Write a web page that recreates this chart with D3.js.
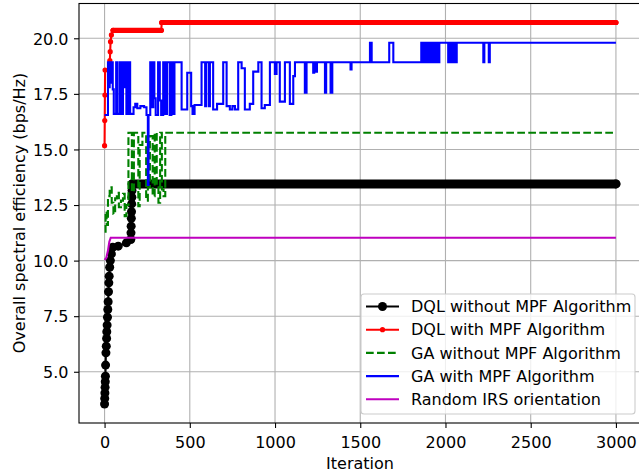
<!DOCTYPE html>
<html>
<head>
<meta charset="utf-8">
<script src="https://cdn.jsdelivr.net/npm/d3@7/dist/d3.min.js"></script>
<style>
  body { margin: 0; background: #fff; }
  svg { display: block; font-family: "DejaVu Sans", sans-serif; }
</style>
</head>
<body>
<div id="svgcontainer"></div>
<script>
// series values: [iteration, overall spectral efficiency]
var dqlNoMpf = [[0, 3.55], [1, 3.8], [2, 4.05], [3, 4.3], [4, 4.55], [5, 4.8], [6, 5.3], [8, 5.85],
  [10, 6.15], [12, 6.5], [13, 6.8], [15, 7.1], [17, 7.45], [19, 7.8], [21, 8.15], [23, 8.6],
  [25, 9.0], [27, 9.3], [30, 9.7], [34, 10.0], [40, 10.3], [48, 10.6], [80, 10.65], [128, 10.8],
  [154, 10.95], [155, 11.25], [156, 11.55], [157, 11.9], [158, 12.2], [159, 12.55], [160, 12.85],
  [161, 13.15], [162, 13.45], [3000, 13.45]];

var dqlMpf = [[0, 15.17], [1, 16.3], [2, 17.45], [3, 18.57], [28, 18.6], [31, 19.0], [33, 19.4],
  [35, 19.85], [40, 20.15], [50, 20.36], [333, 20.36], [335, 20.71], [3000, 20.71]];

// GA series only change value at the listed iterations
var gaNoMpf = [[0, 11.3], [6, 12.2], [12, 11.6], [20, 12.9], [30, 13.3], [42, 12.6], [52, 12.1],
  [62, 12.8], [72, 13.05], [84, 12.4], [96, 12.7], [108, 13.0], [118, 12.0], [128, 12.5],
  [140, 15.75], [160, 13.1], [172, 15.75], [198, 12.45], [206, 15.2], [222, 15.75], [244, 12.7],
  [254, 13.3], [266, 15.6], [282, 12.9], [294, 15.75], [306, 13.3], [316, 12.6], [326, 15.75],
  [336, 13.2], [346, 12.9], [356, 15.75], [3000, 15.75]];

var gaMpf = [[0, 16.55], [20, 18.92], [26, 17.8], [30, 18.92], [36, 18.0], [42, 18.92], [48, 17.7],
  [54, 16.6], [68, 18.92], [76, 16.6], [90, 18.92], [98, 16.6], [108, 18.92], [114, 17.8],
  [120, 18.92], [128, 16.6], [140, 18.92], [150, 16.6], [170, 16.9], [180, 17.05], [192, 16.85],
  [210, 16.95], [232, 16.9], [246, 16.55], [254, 13.4], [258, 16.55], [268, 18.92], [280, 16.9],
  [286, 18.92], [292, 17.3], [300, 16.55], [314, 18.92], [324, 17.2], [332, 16.55], [344, 18.92],
  [350, 16.6], [356, 18.92], [362, 16.6], [366, 18.92], [382, 16.55], [392, 18.92], [402, 16.6],
  [410, 18.92], [452, 16.8], [485, 18.45], [508, 16.95], [516, 16.6], [528, 17.0], [569, 18.92],
  [590, 16.95], [596, 18.92], [612, 16.95], [618, 18.92], [637, 16.8], [660, 17.05], [696, 18.92],
  [716, 16.95], [735, 16.8], [750, 16.95], [765, 16.8], [784, 18.92], [804, 18.65], [823, 16.8],
  [852, 17.05], [872, 18.5], [902, 18.92], [921, 16.85], [940, 17.0], [970, 18.92], [999, 18.4],
  [1009, 18.92], [1028, 17.15], [1058, 18.92], [1087, 17.05], [1107, 18.3], [1117, 18.92],
  [1175, 17.55], [1185, 18.92], [1224, 18.45], [1230, 18.92], [1240, 18.5], [1246, 18.92],
  [1293, 17.55], [1300, 18.92], [1326, 17.55], [1336, 18.92], [1443, 18.6], [1449, 18.92],
  [1557, 19.8], [1567, 18.92], [1670, 19.8], [1694, 18.92], [1858, 19.8], [1864, 18.92],
  [1870, 19.8], [1876, 18.92], [1882, 19.8], [1888, 18.92], [1894, 19.8], [1900, 18.92],
  [1908, 19.8], [1914, 18.92], [1922, 19.8], [1930, 18.92], [1938, 19.8], [1944, 18.92],
  [1952, 19.8], [1958, 18.92], [1964, 19.8], [2016, 18.92], [2024, 19.8], [2030, 18.92],
  [2042, 19.8], [2050, 18.92], [2056, 19.8], [2062, 18.92], [2066, 19.8], [2222, 18.92],
  [2228, 19.8], [2254, 18.92], [2260, 19.8], [3000, 19.8]];

var randomIrs = [[0, 10.03], [10, 10.12], [20, 10.45], [28, 10.85], [36, 11.03], [3000, 11.03]];

var xTicks = [0, 500, 1000, 1500, 2000, 2500, 3000];
var yTicks = [5, 7.5, 10, 12.5, 15, 17.5, 20];
var legendLabels = ["DQL without MPF Algorithm", "DQL with MPF Algorithm",
  "GA without MPF Algorithm", "GA with MPF Algorithm", "Random IRS orientation"];

var svgWidth = 639;
var svgHeight = 475;
var margin = { top: 3.5, left: 79 };
var width = 562.5;
var height = 419.5;
var fontSize = 16;

var svg = d3.select("#svgcontainer")
  .append("svg")
  .attr("width", svgWidth)
  .attr("height", svgHeight);

var chartGroup = svg.append("g")
  .attr("transform", `translate(${margin.left}, ${margin.top})`);

var xScale = d3.scaleLinear().domain([-150, 3150]).range([0, width]);
var yScale = d3.scaleLinear().domain([2.695, 21.565]).range([height, 0]);

svg.append("defs").append("clipPath").attr("id", "plotclip")
  .append("rect").attr("width", width).attr("height", height);

// grid
chartGroup.selectAll(".gx").data(xTicks).enter().append("line")
  .attr("x1", d => xScale(d)).attr("x2", d => xScale(d))
  .attr("y1", 0).attr("y2", height)
  .attr("stroke", "#b0b0b0").attr("stroke-width", 1.1);
chartGroup.selectAll(".gy").data(yTicks).enter().append("line")
  .attr("x1", 0).attr("x2", width)
  .attr("y1", d => yScale(d)).attr("y2", d => yScale(d))
  .attr("stroke", "#b0b0b0").attr("stroke-width", 1.1);

var plot = chartGroup.append("g").attr("clip-path", "url(#plotclip)");

var line = d3.line().x(d => xScale(d[0])).y(d => yScale(d[1]));
var stepLine = d3.line().x(d => xScale(d[0])).y(d => yScale(d[1])).curve(d3.curveStepAfter);

// flat runs of a marker series look like a solid band of markers
function flatRuns(data) {
  var runs = [];
  for (var i = 1; i < data.length; i++) {
    if (data[i][1] === data[i - 1][1]) runs.push([data[i - 1], data[i]]);
  }
  return runs;
}

function markerSeries(data, color, r) {
  plot.selectAll(null).data(flatRuns(data)).enter().append("path")
    .attr("d", d => line(d))
    .attr("fill", "none").attr("stroke", color)
    .attr("stroke-width", 2 * r).attr("stroke-linecap", "round");
  plot.append("path").datum(data)
    .attr("d", line)
    .attr("fill", "none").attr("stroke", color).attr("stroke-width", 2.1);
  plot.selectAll(null).data(data).enter().append("circle")
    .attr("cx", d => xScale(d[0])).attr("cy", d => yScale(d[1]))
    .attr("r", r).attr("fill", color);
}

markerSeries(dqlNoMpf, "#000000", 4.5);
markerSeries(dqlMpf, "#ff0000", 2.6);

plot.append("path").datum(gaNoMpf)
  .attr("d", stepLine)
  .attr("fill", "none").attr("stroke", "#008000").attr("stroke-width", 2.1)
  .attr("stroke-dasharray", "7.7,3.3");

plot.append("path").datum(gaMpf)
  .attr("d", stepLine)
  .attr("fill", "none").attr("stroke", "#0000ff").attr("stroke-width", 2.1);

plot.append("path").datum(randomIrs)
  .attr("d", line)
  .attr("fill", "none").attr("stroke", "#bf00bf").attr("stroke-width", 2.1);

// spines
chartGroup.append("rect")
  .attr("width", width).attr("height", height)
  .attr("fill", "none").attr("stroke", "#000").attr("stroke-width", 1.1);

// axes
var bottomAxis = d3.axisBottom(xScale).tickValues(xTicks).tickSize(5).tickSizeOuter(0).tickPadding(8.5)
  .tickFormat(d3.format("d"));
var leftAxis = d3.axisLeft(yScale).tickValues(yTicks).tickSize(5).tickSizeOuter(0).tickPadding(5.5)
  .tickFormat(d3.format(".1f"));

var gx = chartGroup.append("g")
  .attr("transform", `translate(0, ${height})`)
  .call(bottomAxis);
var gy = chartGroup.append("g").call(leftAxis);

[gx, gy].forEach(function (g) {
  g.select(".domain").remove();
  g.selectAll("line").attr("stroke", "#000").attr("stroke-width", 1.1);
  g.selectAll("text").attr("font-family", "DejaVu Sans").attr("font-size", fontSize).attr("fill", "#000");
});
gy.selectAll("text").attr("dy", "0.36em");

svg.append("text")
  .attr("x", 360).attr("y", 469)
  .attr("text-anchor", "middle")
  .attr("font-size", fontSize)
  .text("Iteration");

svg.append("text")
  .attr("transform", "translate(25, 213) rotate(-90)")
  .attr("text-anchor", "middle")
  .attr("font-size", fontSize)
  .text("Overall spectral efficiency (bps/Hz)");

// legend
var legend = svg.append("g");
legend.append("rect")
  .attr("x", 361).attr("y", 294).attr("width", 274).attr("height", 120).attr("rx", 3)
  .attr("fill", "#fff").attr("fill-opacity", 0.8)
  .attr("stroke", "#cccccc").attr("stroke-width", 1.1);

var legendColors = ["#000000", "#ff0000", "#008000", "#0000ff", "#bf00bf"];
var legendDash = [null, null, "7.7,3.3", null, null];
var legendMarker = [4.5, 2.6, 0, 0, 0];

legendLabels.forEach(function (label, i) {
  var yy = 306.5 + i * 23.2;
  legend.append("line")
    .attr("x1", 366).attr("x2", 399).attr("y1", yy).attr("y2", yy)
    .attr("stroke", legendColors[i]).attr("stroke-width", 2.1)
    .attr("stroke-dasharray", legendDash[i]);
  if (legendMarker[i] > 0) {
    legend.append("circle")
      .attr("cx", 382.5).attr("cy", yy).attr("r", legendMarker[i])
      .attr("fill", legendColors[i]);
  }
  legend.append("text")
    .attr("x", 411).attr("y", yy).attr("dy", "0.36em")
    .attr("font-size", fontSize)
    .text(label);
});
</script>
</body>
</html>
